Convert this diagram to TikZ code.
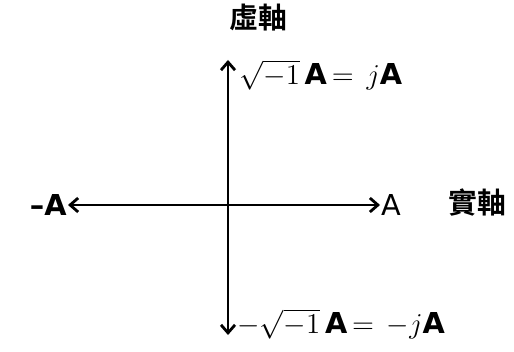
\documentclass[tikz,border=0pt]{standalone}
\usepackage{fontspec}
\setmainfont{DejaVu Sans}
\newfontfamily\cjk{Noto Sans CJK TC Bold}
\usetikzlibrary{arrows.meta}
\begin{document}
\begin{tikzpicture}[x=0.5pt,y=-0.5pt,>={Straight Barb[length=4pt,width=7pt]},
  axis/.style={line width=1.4pt},
  lbl/.style={inner sep=0.5pt,font=\Large\bfseries}]
\useasboundingbox (0,0) rectangle (514,352);
\coordinate (o) at (228,205);
\coordinate (up) at (228,60);
\coordinate (down) at (228,335);
\node[lbl, anchor=east] (minusA) at (68,205) {\textbf{\textendash}A};
\node[lbl, anchor=west, font=\Large] (plusA) at (380,205) {A};
\node[lbl, font=\cjk\Large] (real) at (477,203) {實軸};
\node[lbl, font=\cjk\Large] (imag) at (258,18) {虛軸};
\node[lbl, anchor=west] (jA) at (238,75) {$\sqrt{-1}\,$A$\,=\,j$A};
\node[lbl, anchor=west] (minusjA) at (236,324) {$-\sqrt{-1}\,$A$\,=\,-j$A};

\draw[axis,->] (o) -- (up);
\draw[axis,->] (o) -- (down);
\draw[axis,->] (o) -- (minusA);
\draw[axis,->] (o) -- (plusA);
\end{tikzpicture}
\end{document}
